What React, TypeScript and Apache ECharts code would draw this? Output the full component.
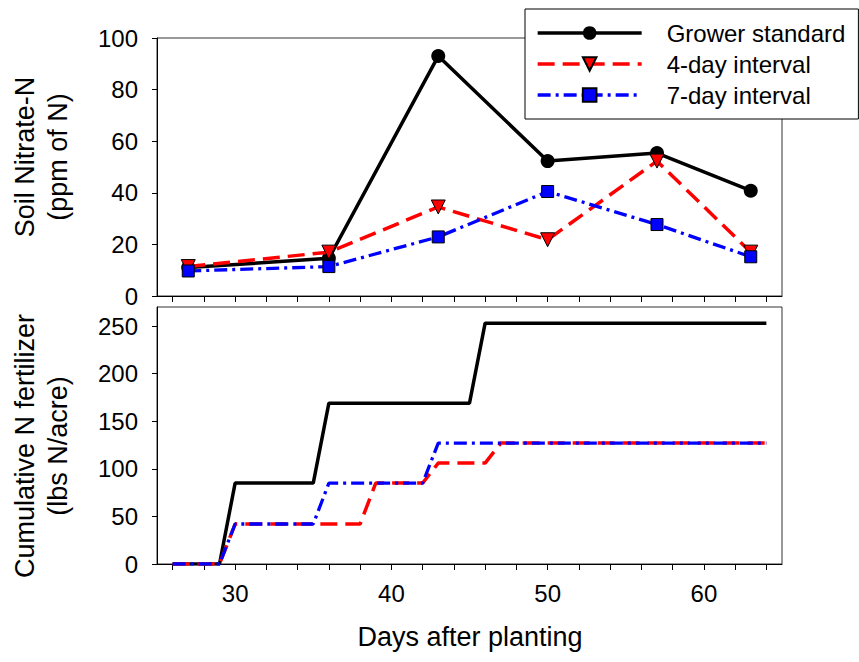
import React, { useEffect, useRef } from "react";
import * as echarts from "echarts";

const seriesNames = ["Grower standard", "4-day interval", "7-day interval"];

// Top panel: soil nitrate-N (ppm of N)
const sampleDays = [27, 36, 43, 50, 57, 63];
const growerNitrate = [11, 14.6, 93, 52.3, 55.4, 40.8];
const fourDayNitrate = [11.4, 17, 34.5, 21.8, 52.3, 17];
const sevenDayNitrate = [9.7, 11.4, 22.9, 40.5, 27.7, 15.2];

// Bottom panel: cumulative N fertilizer (lbs N/acre)
const growerCumDays = [26, 29, 30, 35, 36, 45, 46, 64];
const growerCum = [0, 0, 85, 85, 169, 169, 253, 253];
const fourDayCumDays = [26, 29, 30, 38, 39, 42, 43, 46, 47, 64];
const fourDayCum = [0, 0, 42, 42, 85, 85, 106, 106, 127, 127];
const sevenDayCumDays = [26, 29, 30, 35, 36, 42, 43, 64];
const sevenDayCum = [0, 0, 42, 42, 85, 85, 127, 127];

// Axis ticks and labels
const xTickValues = [26, 28, 30, 32, 34, 36, 38, 40, 42, 44, 46, 48, 50, 52, 54, 56, 58, 60, 62, 64];
const xLabelValues = [30, 40, 50, 60];
const cumTickValues = [0, 50, 100, 150, 200, 250];

const FONT = "Liberation Sans, Arial, Helvetica, sans-serif";

const zip = (xs: number[], ys: number[]) => xs.map((x, i) => [x, ys[i]]);

export default function App() {
  const ref = useRef<HTMLDivElement>(null);

  useEffect(() => {
    if (!ref.current) return;
    const chart = echarts.init(ref.current, undefined, { renderer: "svg" });

    const xAxisBase = (gridIndex: number) => ({
      type: "value",
      gridIndex,
      min: 25,
      max: 65,
      axisLine: { show: true, onZero: false, lineStyle: { color: "#000", width: 1 } },
      axisTick: {
        show: true,
        customValues: xTickValues,
        length: 6,
        lineStyle: { color: "#000", width: 1 },
      },
      axisLabel: {
        show: gridIndex === 1,
        customValues: xLabelValues,
        fontSize: 24,
        fontFamily: FONT,
        color: "#000",
        margin: 17,
      },
      splitLine: { show: false },
    });

    const blackLine = { color: "#000", width: 3.5, type: "solid" };
    const redLine = { color: "#ff0000", width: 3.5, type: [17, 8] };
    const blueLine = { color: "#0000ff", width: 3.3, type: [13, 5, 3, 5] };

    chart.setOption({
      animation: false,
      backgroundColor: "#fff",
      textStyle: { fontFamily: FONT },
      grid: [
        { left: 157, width: 625, top: 38, height: 258, show: true, borderColor: "#333", borderWidth: 1 },
        { left: 157, width: 625, top: 307, height: 257, show: true, borderColor: "#333", borderWidth: 1 },
      ],
      xAxis: [xAxisBase(0), xAxisBase(1)],
      yAxis: [
        {
          type: "value",
          gridIndex: 0,
          min: 0,
          max: 100,
          interval: 20,
          axisLine: { show: true, lineStyle: { color: "#000", width: 1 } },
          axisTick: { show: true, length: 5, lineStyle: { color: "#000" } },
          axisLabel: { fontSize: 24, fontFamily: FONT, color: "#000", margin: 19 },
          splitLine: { show: false },
        },
        {
          type: "value",
          gridIndex: 1,
          min: 0,
          max: 270,
          axisLine: { show: true, lineStyle: { color: "#000", width: 1 } },
          axisTick: { show: true, length: 5, customValues: cumTickValues, lineStyle: { color: "#000" } },
          axisLabel: { fontSize: 24, fontFamily: FONT, color: "#000", margin: 19, customValues: cumTickValues },
          splitLine: { show: false },
        },
      ],
      legend: {
        orient: "vertical",
        left: 525,
        top: 9,
        data: seriesNames,
        backgroundColor: "#fff",
        borderColor: "#000",
        borderWidth: 1,
        borderRadius: 0,
        padding: [12, 13, 12, 11],
        itemWidth: 104,
        itemHeight: 17,
        itemGap: 7,
        lineStyle: { width: 3.3 },
        textStyle: { fontSize: 24, fontFamily: FONT, color: "#000", padding: [0, 0, 0, 20] },
      },
      series: [
        {
          name: seriesNames[0],
          type: "line",
          xAxisIndex: 0,
          yAxisIndex: 0,
          data: zip(sampleDays, growerNitrate),
          symbol: "circle",
          symbolSize: 14,
          itemStyle: { color: "#000" },
          lineStyle: blackLine,
          z: 2,
        },
        {
          name: seriesNames[1],
          type: "line",
          xAxisIndex: 0,
          yAxisIndex: 0,
          data: zip(sampleDays, fourDayNitrate),
          symbol: "triangle",
          symbolRotate: 180,
          symbolSize: 14,
          itemStyle: { color: "#ff0000", borderColor: "#000", borderWidth: 1 },
          lineStyle: redLine,
          z: 3,
        },
        {
          name: seriesNames[2],
          type: "line",
          xAxisIndex: 0,
          yAxisIndex: 0,
          data: zip(sampleDays, sevenDayNitrate),
          symbol: "rect",
          symbolSize: 12,
          itemStyle: { color: "#0000ff", borderColor: "#000", borderWidth: 1 },
          lineStyle: blueLine,
          z: 4,
        },
        {
          name: seriesNames[0],
          type: "line",
          xAxisIndex: 1,
          yAxisIndex: 1,
          data: zip(growerCumDays, growerCum),
          showSymbol: false,
          symbol: "none",
          itemStyle: { color: "#000" },
          lineStyle: blackLine,
          z: 2,
        },
        {
          name: seriesNames[1],
          type: "line",
          xAxisIndex: 1,
          yAxisIndex: 1,
          data: zip(fourDayCumDays, fourDayCum),
          showSymbol: false,
          symbol: "none",
          itemStyle: { color: "#ff0000" },
          lineStyle: redLine,
          z: 3,
        },
        {
          name: seriesNames[2],
          type: "line",
          xAxisIndex: 1,
          yAxisIndex: 1,
          data: zip(sevenDayCumDays, sevenDayCum),
          showSymbol: false,
          symbol: "none",
          itemStyle: { color: "#0000ff" },
          lineStyle: blueLine,
          z: 4,
        },
      ],
      graphic: [
        {
          type: "text",
          x: 41,
          y: 157,
          rotation: Math.PI / 2,
          style: {
            text: "Soil Nitrate-N\n(ppm of N)",
            fontSize: 27,
            fontFamily: FONT,
            fill: "#000",
            align: "center",
            verticalAlign: "middle",
            lineHeight: 33,
          },
        },
        {
          type: "text",
          x: 41,
          y: 446,
          rotation: Math.PI / 2,
          style: {
            text: "Cumulative N fertilizer\n(lbs N/acre)",
            fontSize: 27,
            fontFamily: FONT,
            fill: "#000",
            align: "center",
            verticalAlign: "middle",
            lineHeight: 33,
          },
        },
        {
          type: "text",
          x: 470,
          y: 637,
          style: {
            text: "Days after planting",
            fontSize: 27,
            fontFamily: FONT,
            fill: "#000",
            align: "center",
            verticalAlign: "middle",
          },
        },
      ],
    });

    return () => chart.dispose();
  }, []);

  return (
    <div
      ref={ref}
      style={{ position: "fixed", left: 0, top: 0, width: 859, height: 662 }}
    />
  );
}
